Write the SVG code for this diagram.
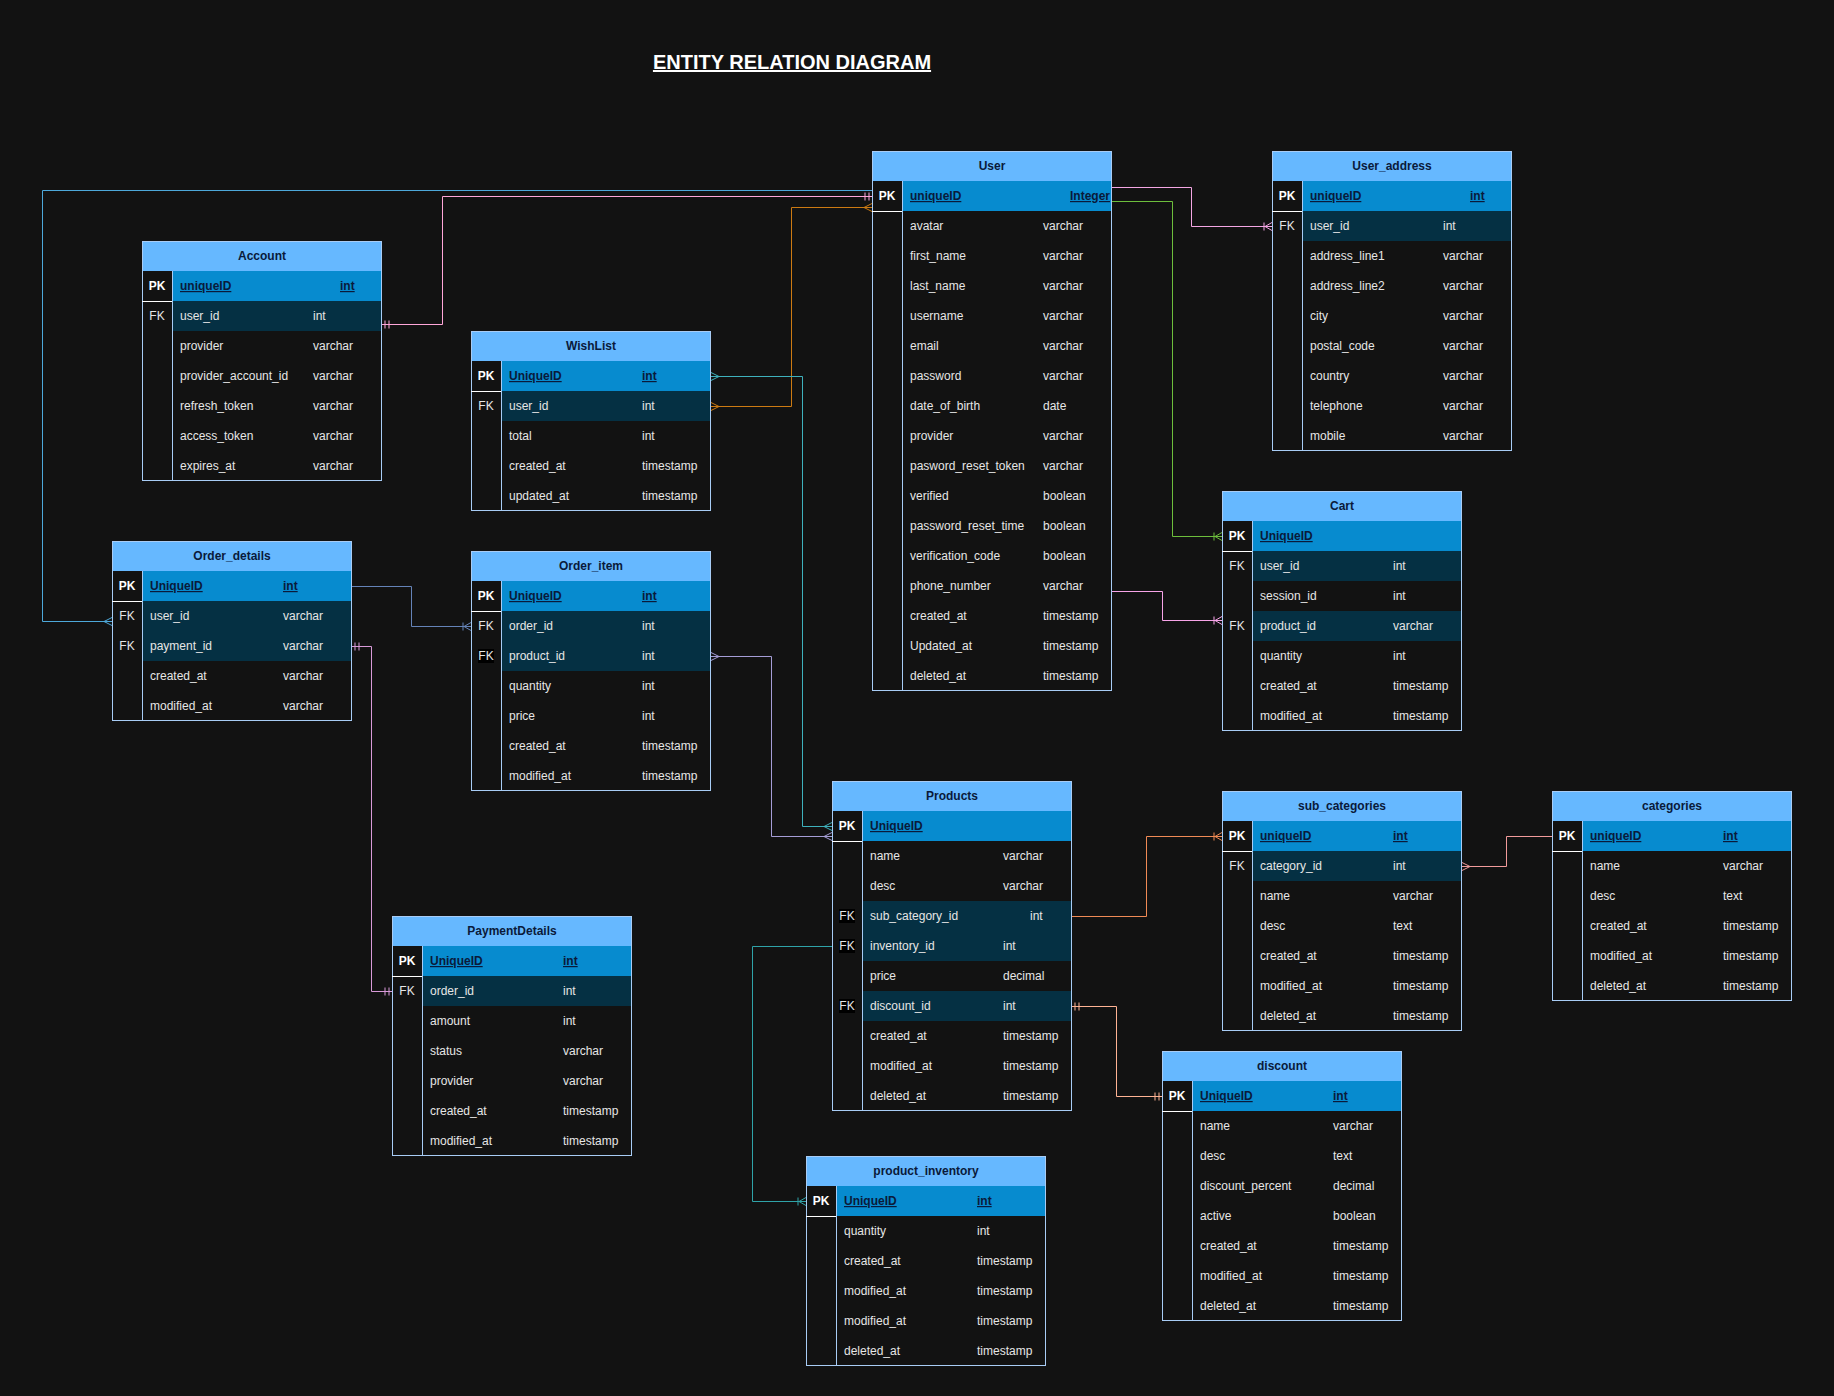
<svg xmlns="http://www.w3.org/2000/svg" xmlns:xlink="http://www.w3.org/1999/xlink" width="1834" height="1396" viewBox="0 0 1834 1396">
<style>
text{font-family:"Liberation Sans",Arial,Helvetica,sans-serif;font-size:12px}
.bg{fill:#121212}
.hdr{fill:#66B8FF}
.pkf{fill:#078BCF}
.fkf{fill:#053043}
.box{fill:none;stroke:#A8CCF5;stroke-width:1}
.div{fill:none;stroke:#A8CCF5;stroke-width:1}
.pkl{fill:none;stroke:#FFFFFF;stroke-width:1}
.ttl{fill:#0A1A3A;font-weight:bold;text-anchor:middle}
.pk{fill:#FFFFFF;font-weight:bold;text-anchor:middle}
.k{fill:#E6E6E6;text-anchor:middle}
.kb{fill:#000000}
.pkn{fill:#0A1A3A;font-weight:bold;text-decoration:underline}
.c{fill:#E6E6E6}
.title{fill:#FFFFFF;font-size:20px;font-weight:bold;text-decoration:underline;text-anchor:middle}
.e{fill:none;stroke-width:1}
</style>
<defs>
<path id="crow" d="M0,-4 L8,0 M0,4 L8,0" fill="none"/>
<path id="o2m" d="M0,-4 L7,0 M0,4 L7,0 M8,-4 V4" fill="none"/>
<path id="m1" d="M3,-4 V4 M7,-4 V4" fill="none"/>
</defs>
<rect class="bg" x="0" y="0" width="1834" height="1396"/>
<text class="title" x="792" y="69">ENTITY RELATION DIAGRAM</text>

<g id="user" transform="translate(872,151)">
<rect class="hdr" width="240" height="30"/>
<rect class="pkf" x="30" y="30" width="210" height="30"/>
<rect class="box" x="0.5" y="0.5" width="239" height="539"/>
<path class="div" d="M30.5,30 V540"/>
<path class="pkl" d="M0,60.5 H30"/>
<text class="ttl" x="120" y="19">User</text>
<text class="pk" x="15" y="49">PK</text>
<text class="pkn" x="38" y="49">uniqueID</text><text class="pkn" x="198" y="49">Integer</text>
<text class="c" x="38" y="79">avatar</text><text class="c" x="171" y="79">varchar</text>
<text class="c" x="38" y="109">first_name</text><text class="c" x="171" y="109">varchar</text>
<text class="c" x="38" y="139">last_name</text><text class="c" x="171" y="139">varchar</text>
<text class="c" x="38" y="169">username</text><text class="c" x="171" y="169">varchar</text>
<text class="c" x="38" y="199">email</text><text class="c" x="171" y="199">varchar</text>
<text class="c" x="38" y="229">password</text><text class="c" x="171" y="229">varchar</text>
<text class="c" x="38" y="259">date_of_birth</text><text class="c" x="171" y="259">date</text>
<text class="c" x="38" y="289">provider</text><text class="c" x="171" y="289">varchar</text>
<text class="c" x="38" y="319">pasword_reset_token</text><text class="c" x="171" y="319">varchar</text>
<text class="c" x="38" y="349">verified</text><text class="c" x="171" y="349">boolean</text>
<text class="c" x="38" y="379">password_reset_time</text><text class="c" x="171" y="379">boolean</text>
<text class="c" x="38" y="409">verification_code</text><text class="c" x="171" y="409">boolean</text>
<text class="c" x="38" y="439">phone_number</text><text class="c" x="171" y="439">varchar</text>
<text class="c" x="38" y="469">created_at</text><text class="c" x="171" y="469">timestamp</text>
<text class="c" x="38" y="499">Updated_at</text><text class="c" x="171" y="499">timestamp</text>
<text class="c" x="38" y="529">deleted_at</text><text class="c" x="171" y="529">timestamp</text>
</g>

<g id="user_address" transform="translate(1272,151)">
<rect class="hdr" width="240" height="30"/>
<rect class="pkf" x="30" y="30" width="210" height="30"/>
<rect class="fkf" x="30" y="60" width="210" height="30"/>
<rect class="box" x="0.5" y="0.5" width="239" height="299"/>
<path class="div" d="M30.5,30 V300"/>
<path class="pkl" d="M0,60.5 H30"/>
<text class="ttl" x="120" y="19">User_address</text>
<text class="pk" x="15" y="49">PK</text>
<text class="pkn" x="38" y="49">uniqueID</text><text class="pkn" x="198" y="49">int</text>
<text class="k" x="15" y="79">FK</text>
<text class="c" x="38" y="79">user_id</text><text class="c" x="171" y="79">int</text>
<text class="c" x="38" y="109">address_line1</text><text class="c" x="171" y="109">varchar</text>
<text class="c" x="38" y="139">address_line2</text><text class="c" x="171" y="139">varchar</text>
<text class="c" x="38" y="169">city</text><text class="c" x="171" y="169">varchar</text>
<text class="c" x="38" y="199">postal_code</text><text class="c" x="171" y="199">varchar</text>
<text class="c" x="38" y="229">country</text><text class="c" x="171" y="229">varchar</text>
<text class="c" x="38" y="259">telephone</text><text class="c" x="171" y="259">varchar</text>
<text class="c" x="38" y="289">mobile</text><text class="c" x="171" y="289">varchar</text>
</g>

<g id="cart" transform="translate(1222,491)">
<rect class="hdr" width="240" height="30"/>
<rect class="pkf" x="30" y="30" width="210" height="30"/>
<rect class="fkf" x="30" y="60" width="210" height="30"/>
<rect class="fkf" x="30" y="120" width="210" height="30"/>
<rect class="box" x="0.5" y="0.5" width="239" height="239"/>
<path class="div" d="M30.5,30 V240"/>
<path class="pkl" d="M0,60.5 H30"/>
<text class="ttl" x="120" y="19">Cart</text>
<text class="pk" x="15" y="49">PK</text>
<text class="pkn" x="38" y="49">UniqueID</text>
<text class="k" x="15" y="79">FK</text>
<text class="c" x="38" y="79">user_id</text><text class="c" x="171" y="79">int</text>
<text class="c" x="38" y="109">session_id</text><text class="c" x="171" y="109">int</text>
<text class="k" x="15" y="139">FK</text>
<text class="c" x="38" y="139">product_id</text><text class="c" x="171" y="139">varchar</text>
<text class="c" x="38" y="169">quantity</text><text class="c" x="171" y="169">int</text>
<text class="c" x="38" y="199">created_at</text><text class="c" x="171" y="199">timestamp</text>
<text class="c" x="38" y="229">modified_at</text><text class="c" x="171" y="229">timestamp</text>
</g>

<g id="account" transform="translate(142,241)">
<rect class="hdr" width="240" height="30"/>
<rect class="pkf" x="30" y="30" width="210" height="30"/>
<rect class="fkf" x="30" y="60" width="210" height="30"/>
<rect class="box" x="0.5" y="0.5" width="239" height="239"/>
<path class="div" d="M30.5,30 V240"/>
<path class="pkl" d="M0,60.5 H30"/>
<text class="ttl" x="120" y="19">Account</text>
<text class="pk" x="15" y="49">PK</text>
<text class="pkn" x="38" y="49">uniqueID</text><text class="pkn" x="198" y="49">int</text>
<text class="k" x="15" y="79">FK</text>
<text class="c" x="38" y="79">user_id</text><text class="c" x="171" y="79">int</text>
<text class="c" x="38" y="109">provider</text><text class="c" x="171" y="109">varchar</text>
<text class="c" x="38" y="139">provider_account_id</text><text class="c" x="171" y="139">varchar</text>
<text class="c" x="38" y="169">refresh_token</text><text class="c" x="171" y="169">varchar</text>
<text class="c" x="38" y="199">access_token</text><text class="c" x="171" y="199">varchar</text>
<text class="c" x="38" y="229">expires_at</text><text class="c" x="171" y="229">varchar</text>
</g>

<g id="wishlist" transform="translate(471,331)">
<rect class="hdr" width="240" height="30"/>
<rect class="pkf" x="30" y="30" width="210" height="30"/>
<rect class="fkf" x="30" y="60" width="210" height="30"/>
<rect class="box" x="0.5" y="0.5" width="239" height="179"/>
<path class="div" d="M30.5,30 V180"/>
<path class="pkl" d="M0,60.5 H30"/>
<text class="ttl" x="120" y="19">WishList</text>
<text class="pk" x="15" y="49">PK</text>
<text class="pkn" x="38" y="49">UniqueID</text><text class="pkn" x="171" y="49">int</text>
<text class="k" x="15" y="79">FK</text>
<text class="c" x="38" y="79">user_id</text><text class="c" x="171" y="79">int</text>
<text class="c" x="38" y="109">total</text><text class="c" x="171" y="109">int</text>
<text class="c" x="38" y="139">created_at</text><text class="c" x="171" y="139">timestamp</text>
<text class="c" x="38" y="169">updated_at</text><text class="c" x="171" y="169">timestamp</text>
</g>

<g id="order_details" transform="translate(112,541)">
<rect class="hdr" width="240" height="30"/>
<rect class="pkf" x="30" y="30" width="210" height="30"/>
<rect class="fkf" x="30" y="60" width="210" height="30"/>
<rect class="fkf" x="30" y="90" width="210" height="30"/>
<rect class="box" x="0.5" y="0.5" width="239" height="179"/>
<path class="div" d="M30.5,30 V180"/>
<path class="pkl" d="M0,60.5 H30"/>
<text class="ttl" x="120" y="19">Order_details</text>
<text class="pk" x="15" y="49">PK</text>
<text class="pkn" x="38" y="49">UniqueID</text><text class="pkn" x="171" y="49">int</text>
<text class="k" x="15" y="79">FK</text>
<text class="c" x="38" y="79">user_id</text><text class="c" x="171" y="79">varchar</text>
<text class="k" x="15" y="109">FK</text>
<text class="c" x="38" y="109">payment_id</text><text class="c" x="171" y="109">varchar</text>
<text class="c" x="38" y="139">created_at</text><text class="c" x="171" y="139">varchar</text>
<text class="c" x="38" y="169">modified_at</text><text class="c" x="171" y="169">varchar</text>
</g>

<g id="order_item" transform="translate(471,551)">
<rect class="hdr" width="240" height="30"/>
<rect class="pkf" x="30" y="30" width="210" height="30"/>
<rect class="fkf" x="30" y="60" width="210" height="30"/>
<rect class="fkf" x="30" y="90" width="210" height="30"/>
<rect class="box" x="0.5" y="0.5" width="239" height="239"/>
<path class="div" d="M30.5,30 V240"/>
<path class="pkl" d="M0,60.5 H30"/>
<text class="ttl" x="120" y="19">Order_item</text>
<text class="pk" x="15" y="49">PK</text>
<text class="pkn" x="38" y="49">UniqueID</text><text class="pkn" x="171" y="49">int</text>
<text class="k" x="15" y="79">FK</text>
<text class="c" x="38" y="79">order_id</text><text class="c" x="171" y="79">int</text>
<rect class="kb" x="7" y="98" width="16" height="14"/>
<text class="k" x="15" y="109">FK</text>
<text class="c" x="38" y="109">product_id</text><text class="c" x="171" y="109">int</text>
<text class="c" x="38" y="139">quantity</text><text class="c" x="171" y="139">int</text>
<text class="c" x="38" y="169">price</text><text class="c" x="171" y="169">int</text>
<text class="c" x="38" y="199">created_at</text><text class="c" x="171" y="199">timestamp</text>
<text class="c" x="38" y="229">modified_at</text><text class="c" x="171" y="229">timestamp</text>
</g>

<g id="products" transform="translate(832,781)">
<rect class="hdr" width="240" height="30"/>
<rect class="pkf" x="30" y="30" width="210" height="30"/>
<rect class="fkf" x="30" y="120" width="210" height="60"/>
<rect class="fkf" x="30" y="210" width="210" height="30"/>
<rect class="box" x="0.5" y="0.5" width="239" height="329"/>
<path class="div" d="M30.5,30 V330"/>
<path class="pkl" d="M0,60.5 H30"/>
<text class="ttl" x="120" y="19">Products</text>
<text class="pk" x="15" y="49">PK</text>
<text class="pkn" x="38" y="49">UniqueID</text>
<text class="c" x="38" y="79">name</text><text class="c" x="171" y="79">varchar</text>
<text class="c" x="38" y="109">desc</text><text class="c" x="171" y="109">varchar</text>
<rect class="kb" x="7" y="128" width="16" height="14"/>
<text class="k" x="15" y="139">FK</text>
<text class="c" x="38" y="139">sub_category_id</text><text class="c" x="198" y="139">int</text>
<rect class="kb" x="7" y="158" width="16" height="14"/>
<text class="k" x="15" y="169">FK</text>
<text class="c" x="38" y="169">inventory_id</text><text class="c" x="171" y="169">int</text>
<text class="c" x="38" y="199">price</text><text class="c" x="171" y="199">decimal</text>
<rect class="kb" x="7" y="218" width="16" height="14"/>
<text class="k" x="15" y="229">FK</text>
<text class="c" x="38" y="229">discount_id</text><text class="c" x="171" y="229">int</text>
<text class="c" x="38" y="259">created_at</text><text class="c" x="171" y="259">timestamp</text>
<text class="c" x="38" y="289">modified_at</text><text class="c" x="171" y="289">timestamp</text>
<text class="c" x="38" y="319">deleted_at</text><text class="c" x="171" y="319">timestamp</text>
</g>

<g id="sub_categories" transform="translate(1222,791)">
<rect class="hdr" width="240" height="30"/>
<rect class="pkf" x="30" y="30" width="210" height="30"/>
<rect class="fkf" x="30" y="60" width="210" height="30"/>
<rect class="box" x="0.5" y="0.5" width="239" height="239"/>
<path class="div" d="M30.5,30 V240"/>
<path class="pkl" d="M0,60.5 H30"/>
<text class="ttl" x="120" y="19">sub_categories</text>
<text class="pk" x="15" y="49">PK</text>
<text class="pkn" x="38" y="49">uniqueID</text><text class="pkn" x="171" y="49">int</text>
<text class="k" x="15" y="79">FK</text>
<text class="c" x="38" y="79">category_id</text><text class="c" x="171" y="79">int</text>
<text class="c" x="38" y="109">name</text><text class="c" x="171" y="109">varchar</text>
<text class="c" x="38" y="139">desc</text><text class="c" x="171" y="139">text</text>
<text class="c" x="38" y="169">created_at</text><text class="c" x="171" y="169">timestamp</text>
<text class="c" x="38" y="199">modified_at</text><text class="c" x="171" y="199">timestamp</text>
<text class="c" x="38" y="229">deleted_at</text><text class="c" x="171" y="229">timestamp</text>
</g>

<g id="categories" transform="translate(1552,791)">
<rect class="hdr" width="240" height="30"/>
<rect class="pkf" x="30" y="30" width="210" height="30"/>
<rect class="box" x="0.5" y="0.5" width="239" height="209"/>
<path class="div" d="M30.5,30 V210"/>
<path class="pkl" d="M0,60.5 H30"/>
<text class="ttl" x="120" y="19">categories</text>
<text class="pk" x="15" y="49">PK</text>
<text class="pkn" x="38" y="49">uniqueID</text><text class="pkn" x="171" y="49">int</text>
<text class="c" x="38" y="79">name</text><text class="c" x="171" y="79">varchar</text>
<text class="c" x="38" y="109">desc</text><text class="c" x="171" y="109">text</text>
<text class="c" x="38" y="139">created_at</text><text class="c" x="171" y="139">timestamp</text>
<text class="c" x="38" y="169">modified_at</text><text class="c" x="171" y="169">timestamp</text>
<text class="c" x="38" y="199">deleted_at</text><text class="c" x="171" y="199">timestamp</text>
</g>

<g id="payment_details" transform="translate(392,916)">
<rect class="hdr" width="240" height="30"/>
<rect class="pkf" x="30" y="30" width="210" height="30"/>
<rect class="fkf" x="30" y="60" width="210" height="30"/>
<rect class="box" x="0.5" y="0.5" width="239" height="239"/>
<path class="div" d="M30.5,30 V240"/>
<path class="pkl" d="M0,60.5 H30"/>
<text class="ttl" x="120" y="19">PaymentDetails</text>
<text class="pk" x="15" y="49">PK</text>
<text class="pkn" x="38" y="49">UniqueID</text><text class="pkn" x="171" y="49">int</text>
<text class="k" x="15" y="79">FK</text>
<text class="c" x="38" y="79">order_id</text><text class="c" x="171" y="79">int</text>
<text class="c" x="38" y="109">amount</text><text class="c" x="171" y="109">int</text>
<text class="c" x="38" y="139">status</text><text class="c" x="171" y="139">varchar</text>
<text class="c" x="38" y="169">provider</text><text class="c" x="171" y="169">varchar</text>
<text class="c" x="38" y="199">created_at</text><text class="c" x="171" y="199">timestamp</text>
<text class="c" x="38" y="229">modified_at</text><text class="c" x="171" y="229">timestamp</text>
</g>

<g id="discount" transform="translate(1162,1051)">
<rect class="hdr" width="240" height="30"/>
<rect class="pkf" x="30" y="30" width="210" height="30"/>
<rect class="box" x="0.5" y="0.5" width="239" height="269"/>
<path class="div" d="M30.5,30 V270"/>
<path class="pkl" d="M0,60.5 H30"/>
<text class="ttl" x="120" y="19">discount</text>
<text class="pk" x="15" y="49">PK</text>
<text class="pkn" x="38" y="49">UniqueID</text><text class="pkn" x="171" y="49">int</text>
<text class="c" x="38" y="79">name</text><text class="c" x="171" y="79">varchar</text>
<text class="c" x="38" y="109">desc</text><text class="c" x="171" y="109">text</text>
<text class="c" x="38" y="139">discount_percent</text><text class="c" x="171" y="139">decimal</text>
<text class="c" x="38" y="169">active</text><text class="c" x="171" y="169">boolean</text>
<text class="c" x="38" y="199">created_at</text><text class="c" x="171" y="199">timestamp</text>
<text class="c" x="38" y="229">modified_at</text><text class="c" x="171" y="229">timestamp</text>
<text class="c" x="38" y="259">deleted_at</text><text class="c" x="171" y="259">timestamp</text>
</g>

<g id="product_inventory" transform="translate(806,1156)">
<rect class="hdr" width="240" height="30"/>
<rect class="pkf" x="30" y="30" width="210" height="30"/>
<rect class="box" x="0.5" y="0.5" width="239" height="209"/>
<path class="div" d="M30.5,30 V210"/>
<path class="pkl" d="M0,60.5 H30"/>
<text class="ttl" x="120" y="19">product_inventory</text>
<text class="pk" x="15" y="49">PK</text>
<text class="pkn" x="38" y="49">UniqueID</text><text class="pkn" x="171" y="49">int</text>
<text class="c" x="38" y="79">quantity</text><text class="c" x="171" y="79">int</text>
<text class="c" x="38" y="109">created_at</text><text class="c" x="171" y="109">timestamp</text>
<text class="c" x="38" y="139">modified_at</text><text class="c" x="171" y="139">timestamp</text>
<text class="c" x="38" y="169">modified_at</text><text class="c" x="171" y="169">timestamp</text>
<text class="c" x="38" y="199">deleted_at</text><text class="c" x="171" y="199">timestamp</text>
</g>

<g id="connectors">
<g stroke="#FFA6D9"><path class="e" d="M382,324.5 H442.5 V196.5 H872"/><use xlink:href="#m1" transform="translate(382,324.5)"/><use xlink:href="#m1" transform="translate(872,196.5) scale(-1,1)"/></g>
<g stroke="#4DA8DA"><path class="e" d="M872,190.5 H42.5 V621.5 H112"/><use xlink:href="#crow" transform="translate(112,621.5) scale(-1,1)"/></g>
<g stroke="#CC7A12"><path class="e" d="M711,406.5 H791.5 V207.5 H872"/><use xlink:href="#crow" transform="translate(711,406.5)"/><use xlink:href="#crow" transform="translate(872,207.5) scale(-1,1)"/></g>
<g stroke="#3EB1BC"><path class="e" d="M711,376.5 H802.5 V826.5 H832"/><use xlink:href="#crow" transform="translate(711,376.5)"/><use xlink:href="#crow" transform="translate(832,826.5) scale(-1,1)"/></g>
<g stroke="#A59DD6"><path class="e" d="M711,656.5 H771.5 V836.5 H832"/><use xlink:href="#crow" transform="translate(711,656.5)"/><use xlink:href="#crow" transform="translate(832,836.5) scale(-1,1)"/></g>
<g stroke="#6583B8"><path class="e" d="M352,586.5 H411.5 V626.5 H471"/><use xlink:href="#o2m" transform="translate(471,626.5) scale(-1,1)"/></g>
<g stroke="#D99AD9"><path class="e" d="M352,646.5 H371.5 V991.5 H392"/><use xlink:href="#m1" transform="translate(352,646.5)"/><use xlink:href="#m1" transform="translate(392,991.5) scale(-1,1)"/></g>
<g stroke="#F08A55"><path class="e" d="M1072,916.5 H1146.5 V836.5 H1222"/><use xlink:href="#o2m" transform="translate(1222,836.5) scale(-1,1)"/></g>
<g stroke="#F29B9B"><path class="e" d="M1462,866.5 H1506.5 V836.5 H1552"/><use xlink:href="#crow" transform="translate(1462,866.5)"/></g>
<g stroke="#FFB394"><path class="e" d="M1072,1006.5 H1116.5 V1096.5 H1162"/><use xlink:href="#m1" transform="translate(1072,1006.5)"/><use xlink:href="#m1" transform="translate(1162,1096.5) scale(-1,1)"/></g>
<g stroke="#2FA3A8"><path class="e" d="M832,946.5 H752.5 V1201.5 H806"/><use xlink:href="#o2m" transform="translate(806,1201.5) scale(-1,1)"/></g>
<g stroke="#F7A4E8"><path class="e" d="M1112,591.5 H1162.5 V620.5 H1222"/><use xlink:href="#o2m" transform="translate(1222,620.5) scale(-1,1)"/></g>
<g stroke="#F4A6E4"><path class="e" d="M1112,187.5 H1191.5 V226.5 H1272"/><use xlink:href="#o2m" transform="translate(1272,226.5) scale(-1,1)"/></g>
<g stroke="#6DBE3C"><path class="e" d="M1112,201.5 H1172.5 V536.5 H1222"/><use xlink:href="#o2m" transform="translate(1222,536.5) scale(-1,1)"/></g>
</g>
</svg>
